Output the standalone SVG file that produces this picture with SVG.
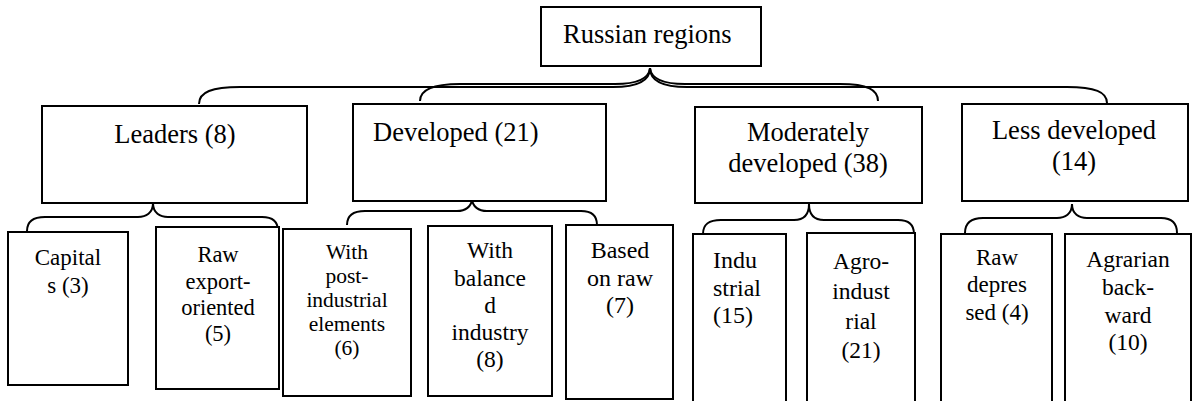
<svg xmlns="http://www.w3.org/2000/svg" width="1192" height="401" viewBox="0 0 1192 401">
<style>
.box{fill:#fff;stroke:#000;stroke-width:2}
.br{fill:none;stroke:#000;stroke-width:2}
text{font-family:'Liberation Serif','Times New Roman',Tinos,'DejaVu Serif',serif;fill:#000}
.t1{font-size:26.5px}
.c{text-anchor:middle}
</style>
<rect width="1192" height="401" fill="#fff"/>
<g id="connectors">
<path class="br" d="M199,104 C199,92 212,87 240,87 L613,87 C638,87 650,80 650,68 C650,80 662,87 687,87 L1067,87 C1095,87 1107,92 1107,103"/>
<path class="br" d="M420,101 C420,90 432,84 460,84 L615,84 C638,84 649,78 650,68 C651,78 662,84 685,84 L840,84 C868,84 878,90 878,101"/>
<path class="br" d="M27,231 C27,221 33,217 45,217 L138,217 C146,217 153,213 153,203 C153,213 160,217 168,217 L262,217 C272,217 278,221 278,231"/>
<path class="br" d="M347,225 C347,215 353,211 365,211 L457,211 C465,211 472,207 472,198 C472,207 479,211 487,211 L581,211 C591,211 597,215 597,225"/>
<path class="br" d="M703,234 C703,224 709,220 721,220 L794,220 C802,220 809,216 809,204 C809,216 816,220 824,220 L898,220 C908,220 914,224 914,234"/>
<path class="br" d="M965,233 C965,223 971,218 983,218 L1057,218 C1065,218 1072,214 1072,204 C1072,214 1079,218 1087,218 L1161,218 C1171,218 1177,222 1177,233"/>
</g>
<g id="russian-regions">
<rect class="box" x="541" y="7" width="220" height="59"/>
<text class="t1" x="563" y="43">Russian regions</text>
</g>
<g id="leaders">
<rect class="box" x="42" y="106" width="265" height="97"/>
<text class="t1 c" x="175" y="143">Leaders (8)</text>
</g>
<g id="developed">
<rect class="box" x="353" y="104" width="253" height="97"/>
<text class="t1" x="373" y="141">Developed (21)</text>
</g>
<g id="moderately">
<rect class="box" x="695" y="107" width="227" height="96"/>
<text class="t1 c" x="808" y="141">Moderately</text>
<text class="t1 c" x="808" y="172">developed (38)</text>
</g>
<g id="less-developed">
<rect class="box" x="962" y="104" width="226" height="97"/>
<text class="t1 c" x="1074" y="139">Less developed</text>
<text class="t1 c" x="1074" y="170">(14)</text>
</g>
<g id="capitals">
<rect class="box" x="8" y="232" width="120" height="153"/>
<text class="c" font-size="23" x="68" y="265">Capital</text>
<text class="c" font-size="23" x="68" y="293">s (3)</text>
</g>
<g id="raw-export">
<rect class="box" x="156" y="227" width="123" height="162"/>
<text class="c" font-size="22.5" x="218" y="262">Raw</text>
<text class="c" font-size="22.5" x="218" y="289">export-</text>
<text class="c" font-size="22.5" x="218" y="315">oriented</text>
<text class="c" font-size="22.5" x="218" y="341">(5)</text>
</g>
<g id="post-industrial">
<rect class="box" x="283" y="229" width="128" height="167"/>
<text class="c" font-size="21.5" x="347" y="259">With</text>
<text class="c" font-size="21.5" x="347" y="283">post-</text>
<text class="c" font-size="21.5" x="347" y="307">industrial</text>
<text class="c" font-size="21.5" x="347" y="331">elements</text>
<text class="c" font-size="21.5" x="347" y="355">(6)</text>
</g>
<g id="balanced-industry">
<rect class="box" x="428" y="226" width="124" height="170"/>
<text class="c" font-size="23.5" x="490" y="258">With</text>
<text class="c" font-size="23.5" x="490" y="285.5">balance</text>
<text class="c" font-size="23.5" x="490" y="313">d</text>
<text class="c" font-size="23.5" x="490" y="340">industry</text>
<text class="c" font-size="23.5" x="490" y="367">(8)</text>
</g>
<g id="based-on-raw">
<rect class="box" x="566" y="225" width="107" height="174"/>
<text class="c" font-size="24" x="620" y="258">Based</text>
<text class="c" font-size="24" x="620" y="286">on raw</text>
<text class="c" font-size="24" x="620" y="313">(7)</text>
</g>
<g id="industrial">
<rect class="box" x="693" y="234" width="93" height="172"/>
<text font-size="24" x="713" y="268">Indu</text>
<text font-size="24" x="713" y="296">strial</text>
<text font-size="24" x="713" y="323">(15)</text>
</g>
<g id="agro-industrial">
<rect class="box" x="807" y="233" width="108" height="173"/>
<text class="c" font-size="23.5" x="861" y="269">Agro-</text>
<text class="c" font-size="23.5" x="861" y="299">indust</text>
<text class="c" font-size="23.5" x="861" y="329">rial</text>
<text class="c" font-size="23.5" x="861" y="358">(21)</text>
</g>
<g id="raw-depressed">
<rect class="box" x="941" y="234" width="111" height="172"/>
<text class="c" font-size="23" x="997" y="265">Raw</text>
<text class="c" font-size="23" x="997" y="292">depres</text>
<text class="c" font-size="23" x="997" y="320">sed (4)</text>
</g>
<g id="agrarian-backward">
<rect class="box" x="1065" y="234" width="126" height="172"/>
<text class="c" font-size="23.5" x="1128" y="267">Agrarian</text>
<text class="c" font-size="23.5" x="1128" y="295">back-</text>
<text class="c" font-size="23.5" x="1128" y="323">ward</text>
<text class="c" font-size="23.5" x="1128" y="350">(10)</text>
</g>
</svg>
